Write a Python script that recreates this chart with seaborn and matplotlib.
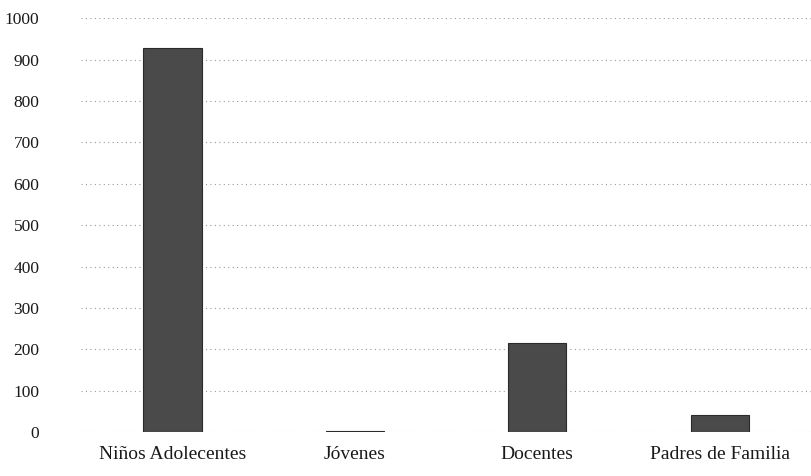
import matplotlib
matplotlib.use("Agg")
import matplotlib.pyplot as plt
import seaborn as sns
import pandas as pd

categories = ["Niños Adolecentes", "Jóvenes", "Docentes", "Padres de Familia"]
values = [927, 4, 216, 42]
yticks = [0, 100, 200, 300, 400, 500, 600, 700, 800, 900, 1000]

df = pd.DataFrame({"cat": categories, "val": values})

sns.set_theme(style="white")
plt.rcParams['font.family'] = ['Liberation Serif', 'DejaVu Serif']

fig = plt.figure(figsize=(8.11, 4.76), dpi=100)
ax = fig.add_axes([0.10, 0.092, 0.90, 0.87])
sns.barplot(data=df, x="cat", y="val", color="#4a4a4a", width=0.32,
            saturation=1, edgecolor="#2a2a2a", linewidth=0.8, ax=ax, zorder=3)
ax.set_ylim(0, 1000)
ax.set_yticks(yticks)
ax.set_yticklabels([str(t) for t in yticks], fontsize=12.5, color="#1a1a1a")
ax.tick_params(axis='y', length=0, pad=30)
ax.tick_params(axis='x', length=0, pad=10, labelsize=14, labelcolor="#1a1a1a")
ax.set_xlabel("")
ax.set_ylabel("")
ax.yaxis.grid(True, linestyle=(0, (1, 3)), color="#9a9a9a", linewidth=0.8)
ax.set_axisbelow(True)
for s in ax.spines.values():
    s.set_visible(False)
fig.savefig("out.png", dpi=100)
